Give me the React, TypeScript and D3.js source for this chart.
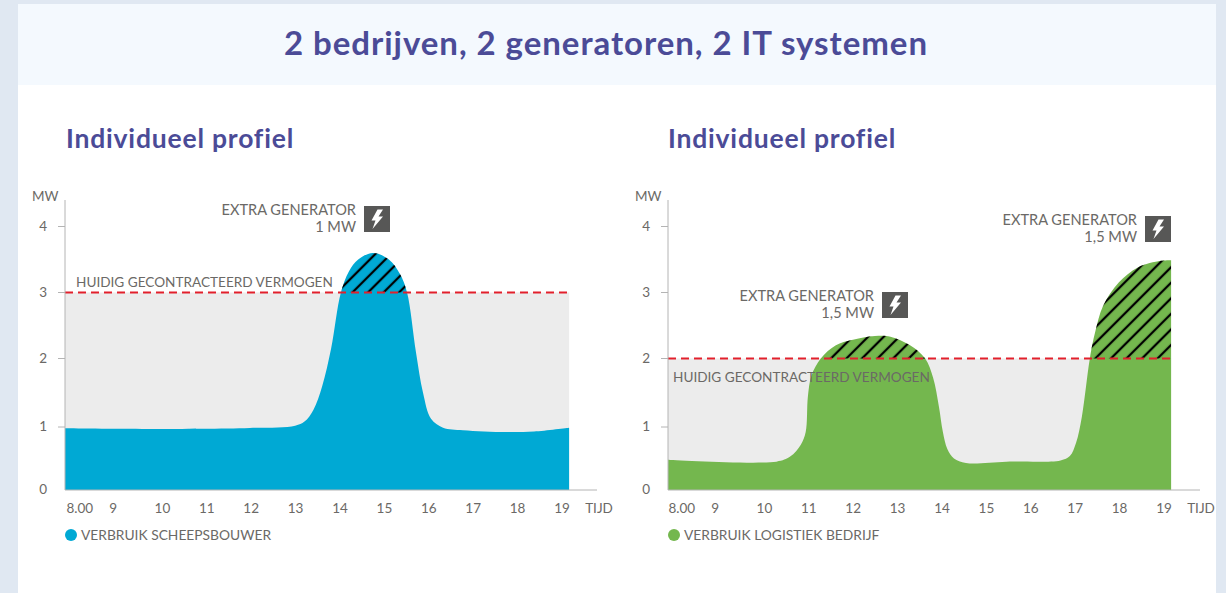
import React from "react";
import * as d3 from "d3";

const titleText = "2 bedrijven, 2 generatoren, 2 IT systemen";
const subTitle = "Individueel profiel";
const yTicks = [0, 1, 2, 3, 4];
const yPixels = [490, 427, 358.5, 292.5, 226.5];
const tickLabels = ["8.00", "9", "10", "11", "12", "13", "14", "15", "16", "17", "18", "19"];
const tickHours = [8.14, 8.89, 10, 11, 12, 13, 14, 15, 16, 17, 18, 19];

const shipHours = [7.806, 9.72, 11.97, 12.99, 13.2, 13.4, 13.6, 13.8, 14.02, 14.2, 14.41, 14.74, 15.1, 15.35, 15.51, 15.71, 15.87, 16.05, 16.32, 16.77, 17.74, 18.37, 19.16];
const shipValues = [0.98, 0.97, 0.985, 1.02, 1.08, 1.25, 1.6, 2.15, 3.0, 3.32, 3.5, 3.6, 3.5, 3.28, 3.0, 2.1, 1.5, 1.12, 0.99, 0.95, 0.92, 0.93, 0.99];

const logiHours = [7.83, 10.27, 10.58, 10.82, 10.93, 10.98, 11.06, 11.27, 11.61, 11.97, 12.49, 12.84, 13.28, 13.62, 13.8, 13.93, 14.02, 14.12, 14.27, 14.54, 15.45, 16.67, 16.88, 17.02, 17.15, 17.33, 17.45, 17.63, 17.98, 18.41, 18.93, 19.16];
const logiValues = [0.48, 0.45, 0.53, 0.72, 0.92, 1.45, 1.75, 2.0, 2.2, 2.28, 2.34, 2.33, 2.2, 2.0, 1.72, 1.3, 0.92, 0.65, 0.5, 0.43, 0.45, 0.47, 0.54, 0.75, 1.15, 2.0, 2.4, 2.8, 3.15, 3.38, 3.48, 3.49];

const FONT = "Lato, sans-serif";
const TEXT = "#6b6966";
const PURPLE = "#4b4b97";
const yScale = d3.scaleLinear().domain(yTicks).range(yPixels);

function Bolt({ x, y }: { x: number; y: number }) {
  return (
    <g transform={`translate(${x},${y})`}>
      <rect width={26} height={26} fill="#575756" />
      <path d="M13.5 3.5 L7.5 14.5 L11.5 14.5 L8.5 23 L19 10.5 L14.5 10.5 L19 3.5 Z" fill="#fff" />
    </g>
  );
}

function Generator({ right, y, mw }: { right: number; y: number; mw: string }) {
  return (
    <g>
      <text x={right} y={y + 4} textAnchor="end" fontSize={14.6} fontFamily={FONT} fill={TEXT}>EXTRA GENERATOR</text>
      <text x={right} y={y + 21} textAnchor="end" fontSize={14.6} fontFamily={FONT} fill={TEXT}>{mw}</text>
      <Bolt x={right + 8} y={y - 5} />
    </g>
  );
}

function Panel({ id, x14, x0, titleX, hours, values, color, threshold, labelX, labelY, legend, children }: any) {
  const xScale = d3.scaleLinear().domain([14, 19]).range([x14, x14 + 5 * 44.4]);
  const pts = hours.map((h: number, i: number) => [h, values[i]] as [number, number]);
  const area = d3.area<[number, number]>()
    .x((d) => xScale(d[0]))
    .y0(yScale(0))
    .y1((d) => yScale(d[1]))
    .curve(d3.curveCatmullRom.alpha(0.5));
  const path = area(pts) as string;
  const yT = yScale(threshold);
  const xR = xScale(hours[hours.length - 1]);
  return (
    <g>
      <defs>
        <pattern id={`hatch-${id}`} width={11} height={11} patternUnits="userSpaceOnUse" patternTransform="rotate(-45)">
          <line x1={0} y1={5} x2={11} y2={5} stroke="#000" strokeWidth={2.3} />
        </pattern>
        <clipPath id={`above-${id}`}>
          <rect x={x0} y={190} width={xR - x0} height={yT - 190} />
        </clipPath>
      </defs>
      <text x={titleX} y={148} fontSize={26.5} fontWeight={700} fontFamily={FONT} fill={PURPLE} letterSpacing={0.8}>{subTitle}</text>
      <rect x={x0} y={yT} width={xR - x0} height={yScale(0) - yT} fill="#ececec" />
      <path d={path} fill={color} />
      <path d={path} fill={`url(#hatch-${id})`} clipPath={`url(#above-${id})`} />
      <line x1={x0} x2={xR} y1={yT} y2={yT} stroke="#e2202c" strokeWidth={2} strokeDasharray="8 5" />
      <line x1={x0} x2={x0} y1={200} y2={490} stroke="#b4b4b4" strokeWidth={1} />
      <line x1={x0} x2={x0 + 532} y1={490} y2={490} stroke="#b4b4b4" strokeWidth={1} />
      {yTicks.filter((t) => t > 0).map((t) => (
        <line key={t} x1={x0 - 7} x2={x0} y1={yScale(t)} y2={yScale(t)} stroke="#b4b4b4" strokeWidth={1} />
      ))}
      {yTicks.map((t) => (
        <text key={t} x={x0 - 18} y={yScale(t) + 4} textAnchor="end" fontSize={13.5} fontFamily={FONT} fill={TEXT}>{t}</text>
      ))}
      <text x={x0 - 33} y={201} fontSize={13.5} fontFamily={FONT} fill={TEXT}>MW</text>
      {tickLabels.map((l, i) => (
        <text key={l} x={xScale(tickHours[i])} y={513} textAnchor="middle" fontSize={13.5} fontFamily={FONT} fill={TEXT}>{l}</text>
      ))}
      <text x={x14 + 259} y={513} textAnchor="middle" fontSize={13.5} fontFamily={FONT} fill={TEXT}>TIJD</text>
      <text x={labelX} y={labelY} fontSize={13.6} fontFamily={FONT} fill={TEXT}>HUIDIG GECONTRACTEERD VERMOGEN</text>
      <circle cx={x0 + 6} cy={535} r={6} fill={color} />
      <text x={x0 + 16} y={540} fontSize={13.8} fontFamily={FONT} fill={TEXT}>{legend}</text>
      {children}
    </g>
  );
}

export default function App() {
  return (
    <svg width={1226} height={593} style={{ position: "absolute", left: 0, top: 0 }}>
      <rect width={1226} height={593} fill="#e0e8f2" />
      <rect x={18} y={4} width={1198} height={589} fill="#fff" />
      <rect x={18} y={4} width={1198} height={81} fill="#f4f9fe" />
      <text x={606} y={55} textAnchor="middle" fontSize={33} fontWeight={700} fontFamily={FONT} fill={PURPLE} letterSpacing={0.95}>{titleText}</text>
      <Panel id="a" x14={340} x0={65} titleX={66} hours={shipHours} values={shipValues} color="#00a9d4" threshold={3} labelX={76} labelY={287} legend="VERBRUIK SCHEEPSBOUWER">
        <Generator right={356} y={211} mw="1 MW" />
      </Panel>
      <Panel id="b" x14={942} x0={668} titleX={668} hours={logiHours} values={logiValues} color="#74b74e" threshold={2} labelX={673} labelY={382} legend="VERBRUIK LOGISTIEK BEDRIJF">
        <Generator right={874} y={297} mw="1,5 MW" />
        <Generator right={1137} y={221} mw="1,5 MW" />
      </Panel>
    </svg>
  );
}
